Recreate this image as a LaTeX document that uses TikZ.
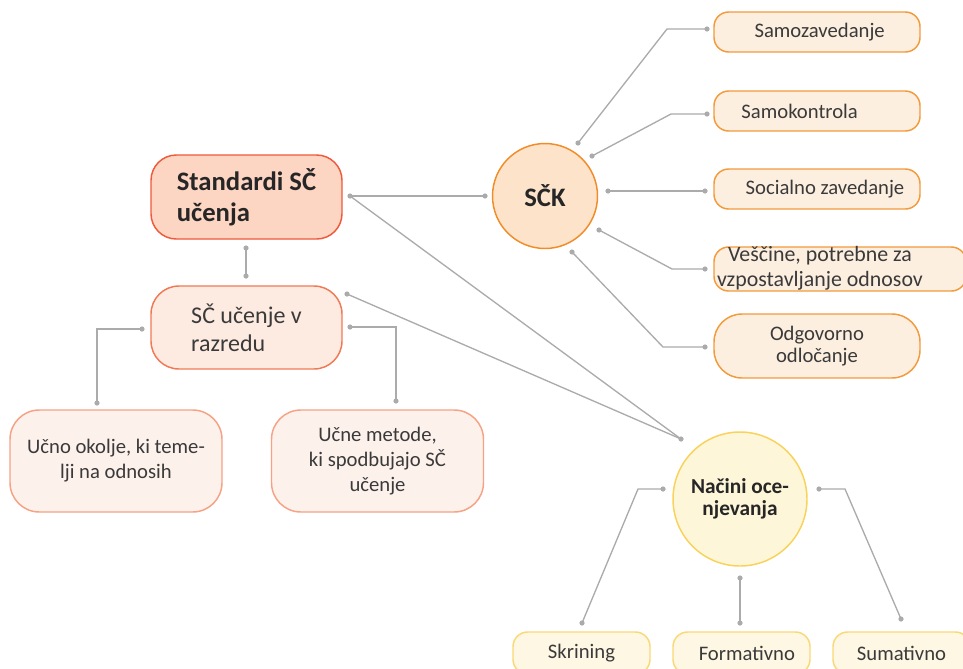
\documentclass[tikz,border=0pt]{standalone}
\usepackage{fontspec}
\setmainfont{Carlito}
\usepackage{xcolor}
\usepackage{tikz}

\definecolor{linkgray}{RGB}{171,171,171}
\definecolor{inkgray}{RGB}{58,58,58}
\definecolor{stdfill}{RGB}{253,213,195}
\definecolor{stddraw}{RGB}{238,90,58}
\definecolor{razfill}{RGB}{253,235,225}
\definecolor{razdraw}{RGB}{240,122,85}
\definecolor{leaffill}{RGB}{253,241,236}
\definecolor{leafdraw}{RGB}{245,162,133}
\definecolor{sckfill}{RGB}{253,227,202}
\definecolor{sckdraw}{RGB}{242,140,40}
\definecolor{rfill}{RGB}{253,239,224}
\definecolor{rdraw}{RGB}{243,154,60}
\definecolor{ocfill}{RGB}{253,246,217}
\definecolor{ocdraw}{RGB}{249,210,90}
\definecolor{bfill}{RGB}{253,247,227}
\definecolor{bdraw}{RGB}{249,217,119}

\begin{document}
\begin{tikzpicture}[x=0.75pt,y=0.75pt,yscale=-1,xscale=1,
  link/.style={draw=linkgray, line width=1pt},
  body/.style={text=inkgray, font=\fontsize{15.5}{18.75}\selectfont},
  rbox/.style={body, draw=rdraw, fill=rfill, line width=1.1pt, rounded corners=11pt,
    minimum width=154.5pt, minimum height=30pt, inner sep=0pt},
  bbox/.style={body, draw=bdraw, fill=bfill, line width=1.1pt, rounded corners=11pt,
    minimum width=102.75pt, minimum height=31.5pt, inner sep=0pt},
  leaf/.style={body, draw=leafdraw, fill=leaffill, line width=1.1pt, rounded corners=22pt,
    minimum width=159pt, minimum height=76.5pt, align=center, inner sep=0pt}]
\useasboundingbox (0,0) rectangle (963,668);

% Text Node
\node [draw=stddraw, fill=stdfill, line width=1.1pt, rounded corners=19pt,
  minimum width=143.25pt, minimum height=63pt, align=left, text=black!85,
  font=\fontsize{20}{23.25}\selectfont\bfseries] (std) at (246.5,197) {Standardi SČ\\učenja};
% Text Node
\node [body, draw=razdraw, fill=razfill, line width=1.1pt, rounded corners=21pt,
  minimum width=143.25pt, minimum height=62.25pt, align=left,
  font=\fontsize{18}{21}\selectfont] (raz) at (246.5,327.5) {SČ učenje v\\razredu};
% Text Node
\node [leaf] (okolje) at (116,461) {Učno okolje, ki teme-\\lji na odnosih};
% Text Node
\node [leaf] (metode) at (377.5,461) {Učne metode,\\ki spodbujajo SČ\\učenje};

% Text Node
\node [circle, draw=sckdraw, fill=sckfill, line width=1.1pt, minimum size=78.75pt,
  text=black!85, font=\fontsize{20}{23}\selectfont\bfseries] (sck) at (545,196) {SČK};
% Text Node
\node [circle, draw=ocdraw, fill=ocfill, line width=1.1pt, minimum size=100.5pt,
  align=center, inner sep=0pt, text=black!85, font=\fontsize{16}{16.5}\selectfont\bfseries] (nacini) at (740,499) {Načini oce-\\njevanja};

% Text Node
\node [rbox] (samozav) at (817,32) {\hspace{4pt}Samozavedanje};
\node [rbox] (samokon) at (817,111) {Samokontrola\kern26pt};
\node [rbox] (soczav) at (817,189) {\hspace{12pt}Socialno zavedanje};
\node [rbox, minimum width=189pt, minimum height=33pt] (vescine) at (840,269) {};
\node [body, align=center, inner sep=0pt, font=\fontsize{16.4}{18.75}\selectfont] (vescineText) at (820,268) {Veščine, potrebne za\\vzpostavljanje odnosov};
\node [rbox, minimum height=48pt, rounded corners=21pt, align=center,
  font=\fontsize{15.5}{16.5}\selectfont] (odgovor) at (817,346) {Odgovorno\\odločanje};

% Text Node
\node [bbox] (skrining) at (581.5,653) {Skrining};
\node [bbox] (formativ) at (741.5,653) {\hspace{8pt}Formativno};
\node [bbox] (sumativ) at (901.5,653) {Sumativno};

% connector end points
\coordinate (stdE) at (350,196);
\coordinate (sckW) at (485,196);
\coordinate (stdS) at (246,248);
\coordinate (razN) at (246,276);
\coordinate (razNE) at (347,294);
\coordinate (nacNW) at (681,439);
\coordinate (razW) at (142,329);
\coordinate (okoljeN) at (97,403);
\coordinate (razE) at (350,327);
\coordinate (metodeN) at (396,401);
\coordinate (sck1) at (578,143);
\coordinate (sck2) at (592,156);
\coordinate (sck3) at (608,191);
\coordinate (sck4) at (599,230);
\coordinate (sck5) at (572,252);
\coordinate (samozavW) at (707,29);
\coordinate (samokonW) at (707,114);
\coordinate (soczavW) at (705,191);
\coordinate (vescineW) at (705,269);
\coordinate (odgovorW) at (705,347);
\coordinate (nacW) at (663,489);
\coordinate (nacS) at (740,578);
\coordinate (nacE) at (819,489);
\coordinate (skriningN) at (582,623);
\coordinate (formativN) at (740,623);
\coordinate (sumativN) at (901,619);

% connectors
\draw [link] (stdE) -- (sckW);
\draw [link] (stdS) -- (razN);
\draw [link] (stdE) -- (nacNW);
\draw [link] (razNE) -- (nacNW);
\draw [link] (razW) -| (okoljeN);
\draw [link] (razE) -| (metodeN);
\draw [link] (sck1) -- (667,29) -- (samozavW);
\draw [link] (sck2) -- (671,114) -- (samokonW);
\draw [link] (sck3) -- (soczavW);
\draw [link] (sck4) -- (672,269) -- (vescineW);
\draw [link] (sck5) -- (663,347) -- (odgovorW);
\draw [link] (nacW) -- (638,489) -- (skriningN);
\draw [link] (nacS) -- (formativN);
\draw [link] (nacE) -- (845,489) -- (sumativN);

\foreach \p in {stdE,sckW,stdS,razN,razNE,nacNW,razW,okoljeN,razE,metodeN,
  sck1,sck2,sck3,sck4,sck5,samozavW,samokonW,soczavW,vescineW,odgovorW,
  nacW,nacS,nacE,skriningN,formativN,sumativN}
  \fill [linkgray] (\p) circle [radius=2.6];

\end{tikzpicture}
\end{document}
